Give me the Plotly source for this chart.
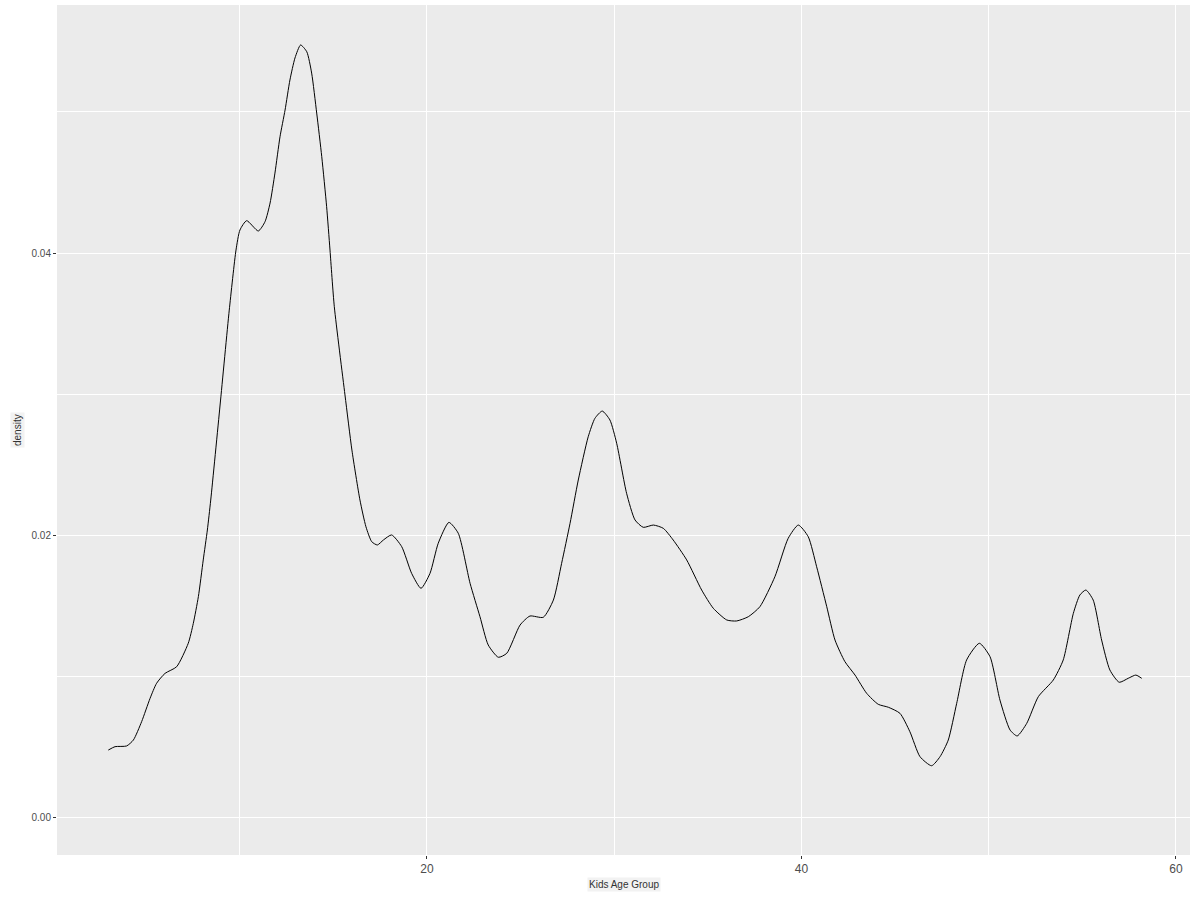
import plotly.graph_objects as go

# Density curve values (x in data units, y = density)
x_vals = [2.98, 3.34, 3.96, 4.32, 4.76, 5.21, 5.56, 6.01, 6.63, 7.25, 7.52, 7.79, 8.05, 8.27,
          8.45, 8.95, 9.44, 9.80, 10.01, 10.37, 10.99, 11.35, 11.62, 11.88, 12.15, 12.42, 12.68,
          12.95, 13.25, 13.58, 13.84, 14.11, 14.38, 14.64, 14.82, 15.05, 15.62, 15.99, 16.42,
          16.74, 17.05, 17.35, 17.67, 18.11, 18.65, 19.18, 19.68, 20.16, 20.60, 21.17, 21.67,
          22.30, 22.83, 23.27, 23.81, 24.26, 24.97, 25.50, 26.21, 26.75, 27.19, 27.64, 28.08,
          28.61, 28.97, 29.36, 29.77, 30.13, 30.66, 31.11, 31.55, 32.09, 32.62, 33.15, 33.87,
          34.67, 35.29, 36.01, 36.54, 37.16, 37.78, 38.58, 39.29, 39.83, 40.36, 40.81, 41.35,
          41.79, 42.32, 42.86, 43.48, 44.10, 44.64, 45.26, 45.79, 46.33, 46.95, 47.40, 47.84,
          48.29, 48.82, 49.50, 50.07, 50.60, 51.14, 51.52, 52.03, 52.65, 53.45, 53.98, 54.52,
          54.87, 55.19, 55.58, 56.03, 56.47, 56.97, 57.45, 57.86, 58.17]
density = [0.00481, 0.00505, 0.00510, 0.00552, 0.00682, 0.00847, 0.00954, 0.01024, 0.01071,
           0.01237, 0.01378, 0.01567, 0.01827, 0.02039, 0.02251, 0.02924, 0.03596, 0.04021,
           0.04163, 0.04229, 0.04156, 0.04222, 0.04354, 0.04566, 0.04823, 0.05012, 0.05225,
           0.05381, 0.05473, 0.05425, 0.05274, 0.04991, 0.04682, 0.04328, 0.04021, 0.03620,
           0.02995, 0.02605, 0.02251, 0.02062, 0.01956, 0.01933, 0.01968, 0.02004, 0.01921,
           0.01732, 0.01626, 0.01732, 0.01945, 0.02093, 0.02016, 0.01662, 0.01425, 0.01225,
           0.01138, 0.01166, 0.01366, 0.01430, 0.01421, 0.01543, 0.01803, 0.02086, 0.02393,
           0.02699, 0.02830, 0.02881, 0.02818, 0.02653, 0.02299, 0.02110, 0.02058, 0.02074,
           0.02051, 0.01968, 0.01827, 0.01614, 0.01485, 0.01402, 0.01395, 0.01425, 0.01496,
           0.01708, 0.01980, 0.02074, 0.01992, 0.01779, 0.01496, 0.01260, 0.01107, 0.01012,
           0.00883, 0.00805, 0.00784, 0.00741, 0.00611, 0.00434, 0.00370, 0.00434, 0.00552,
           0.00812, 0.01119, 0.01237, 0.01142, 0.00835, 0.00623, 0.00581, 0.00670, 0.00859,
           0.00977, 0.01119, 0.01449, 0.01579, 0.01614, 0.01543, 0.01260, 0.01048, 0.00961,
           0.00989, 0.01012, 0.00989]

x_ticks = [20, 40, 60]
x_minor = [10, 30, 50]
y_ticks = [0.00, 0.02, 0.04]
y_tick_text = ["0.00", "0.02", "0.04"]
y_minor = [0.01, 0.03, 0.05]

x_title = "Kids Age Group"
y_title = "density"

fig = go.Figure()
fig.add_trace(go.Scatter(
    x=x_vals, y=density, mode="lines",
    line=dict(color="black", width=1.0, shape="spline", smoothing=0.6),
    showlegend=False, hoverinfo="skip",
))

font_family = "Liberation Sans, DejaVu Sans, sans-serif"

fig.update_layout(
    width=1200, height=900,
    margin=dict(l=57, r=10, t=5, b=45, autoexpand=False),
    paper_bgcolor="white",
    plot_bgcolor="#EBEBEB",
    font=dict(family=font_family, color="#4D4D4D"),
    xaxis=dict(
        range=[0.24, 60.75],
        automargin=False,
        tickmode="array", tickvals=x_ticks,
        ticks="outside", ticklen=3, tickcolor="#333333", tickwidth=1,
        tickfont=dict(size=12, color="#4D4D4D"),
        showgrid=True, gridcolor="white", gridwidth=1.2,
        minor=dict(tickmode="array", tickvals=x_minor, showgrid=True,
                   gridcolor="white", gridwidth=0.6, ticks=""),
        zeroline=False, showline=False,
    ),
    yaxis=dict(
        range=[-0.00262, 0.05756],
        automargin=False,
        tickmode="array", tickvals=y_ticks, ticktext=y_tick_text,
        ticks="outside", ticklen=3, tickcolor="#333333", tickwidth=1,
        tickfont=dict(size=10, color="#4D4D4D"),
        showgrid=True, gridcolor="white", gridwidth=1.2,
        minor=dict(tickmode="array", tickvals=y_minor, showgrid=True,
                   gridcolor="white", gridwidth=0.6, ticks=""),
        zeroline=False, showline=False,
    ),
    annotations=[
        dict(text=x_title, xref="paper", yref="paper", x=0.5, y=0, yshift=-29,
             xanchor="center", yanchor="middle", showarrow=False,
             font=dict(size=10, color="#333333", family=font_family),
             bgcolor="#F2F2F2"),
        dict(text=y_title, xref="paper", yref="paper", x=0, y=0.5, xshift=-40,
             xanchor="center", yanchor="middle", showarrow=False, textangle=-90,
             font=dict(size=10, color="#333333", family=font_family),
             bgcolor="#F2F2F2"),
    ],
)

fig.write_html("out.html", config={"displayModeBar": False},
               post_script="document.body.style.margin='0';")
